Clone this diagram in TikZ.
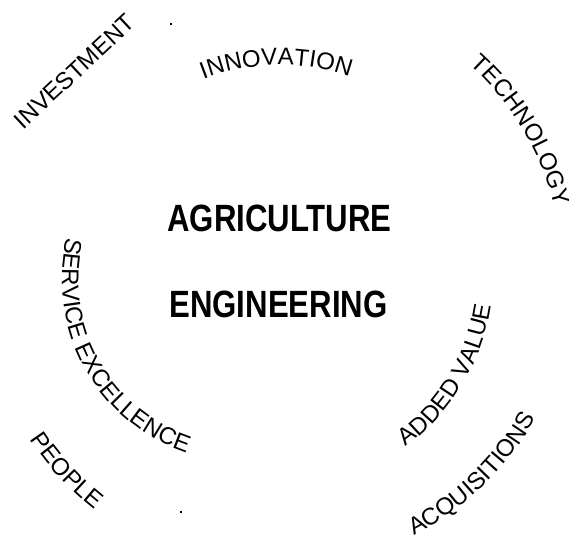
\documentclass[tikz,border=0pt]{standalone}
\usepackage{fontspec}
\usetikzlibrary{decorations.text}
\newfontfamily\ringfont{Liberation Sans}
\newfontfamily\hubfont[FakeStretch=0.82]{Liberation Sans}
\tikzset{
  ringword/.style={decorate,decoration={text along path,text align=center,
      text={|\ringfont\fontsize{24}{24}\selectfont|#1}}},
  ringnode/.style={font=\ringfont\fontsize{24}{24}\selectfont,inner sep=0pt},
  hubword/.style={font=\hubfont\bfseries\fontsize{38}{38}\selectfont,inner sep=0pt,anchor=base},
  speck/.style={fill=black,minimum size=2pt,inner sep=0pt}
}
\begin{document}
\begin{tikzpicture}[x=1pt,y=1pt]
		\useasboundingbox (0,0) rectangle (569,541);
		\coordinate (hub) at (280,266);
		\coordinate (inner) at (244,261);
		%
		\node[hubword] (agri) at (279.5,309) {AGRICULTURE};
		\node[hubword] (engi) at (278.5,224) {ENGINEERING};
		%
		\node[ringnode,rotate=43] (invest) at (74.5,469.5) {INVESTMENT};
		\path[ringword=INNOVATION] (hub) ++(150:210pt) arc[start angle=150,end angle=32,radius=210pt];
		\path[ringword=TECHNOLOGY] (hub) ++(75:283pt) arc[start angle=75,end angle=-13,radius=283pt];
		%
		\path[ringword=SERVICE EXCELLENCE] (inner) ++(150:182pt) arc[start angle=150,end angle=268,radius=182pt];
		\path[ringword=ADDED VALUE] (hub) ++(-80:213pt) arc[start angle=-80,end angle=18,radius=213pt];
		\path[ringword=ACQUISITIONS] (hub) ++(-80:293pt) arc[start angle=-80,end angle=-12,radius=293pt];
		\path[ringword=PEOPLE] (hub) ++(200:299pt) arc[start angle=200,end angle=245,radius=299pt];
		%
		\node[speck] (dotn) at (171,517) {};
		\node[speck] (dots) at (181,29) {};
	\end{tikzpicture}
\end{document}
